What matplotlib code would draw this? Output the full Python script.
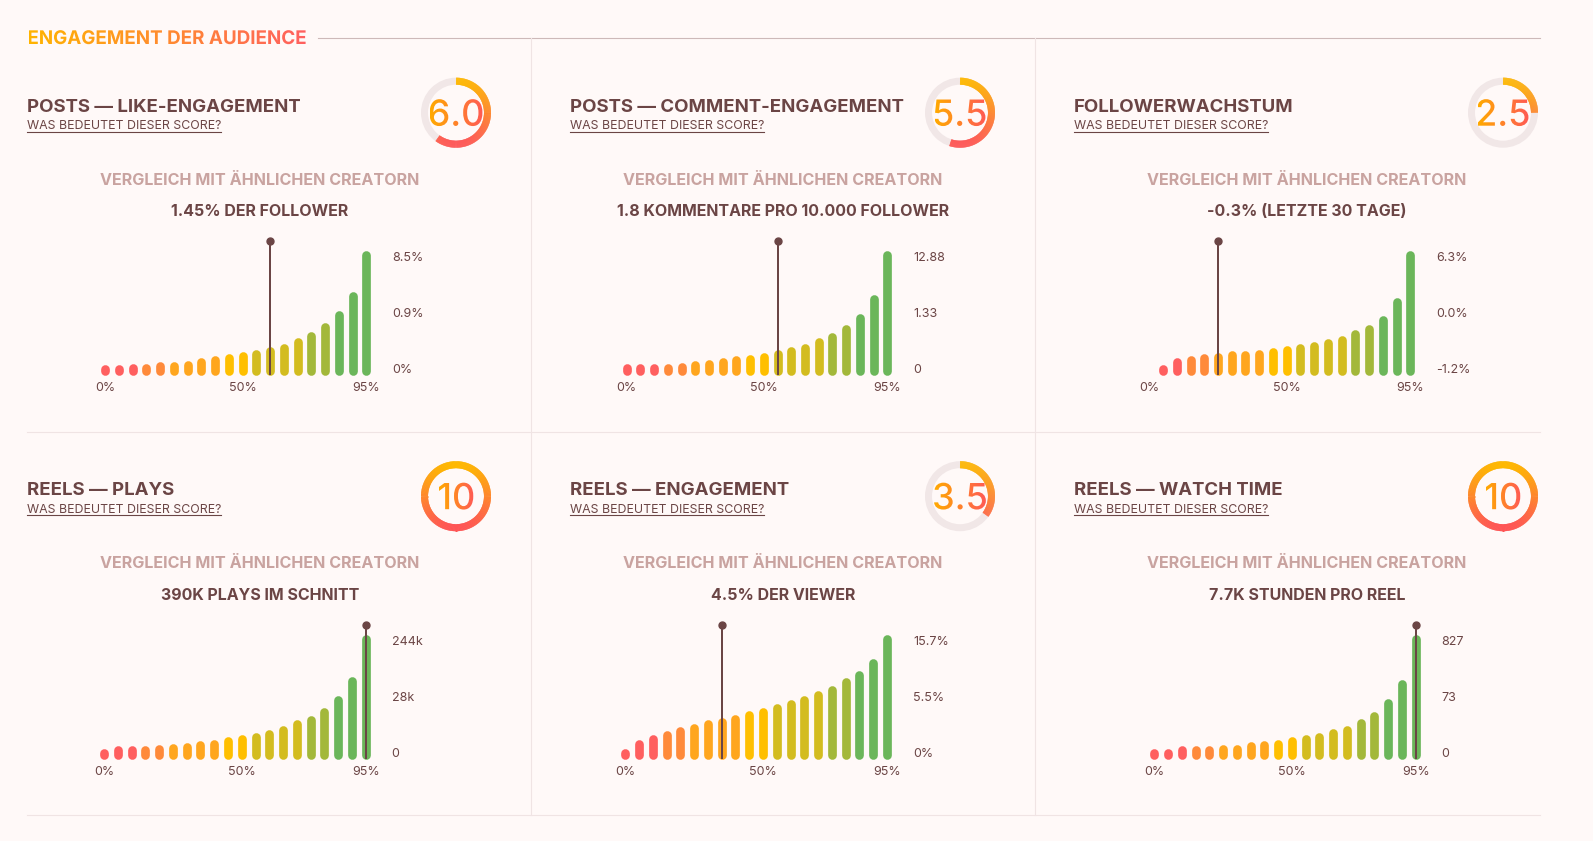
import matplotlib
matplotlib.use('Agg')
import matplotlib.pyplot as plt
import numpy as np
from matplotlib.collections import LineCollection
from matplotlib.textpath import TextPath
from matplotlib.font_manager import FontProperties
from matplotlib.patches import PathPatch, Circle
from matplotlib.transforms import Affine2D
from matplotlib.colors import to_rgb

plt.rcParams['font.family'] = ['Inter', 'DejaVu Sans']

# --- Daten ---
section_title = 'ENGAGEMENT DER AUDIENCE'
titles = ['POSTS — LIKE-ENGAGEMENT', 'POSTS — COMMENT-ENGAGEMENT', 'FOLLOWERWACHSTUM',
          'REELS — PLAYS', 'REELS — ENGAGEMENT', 'REELS — WATCH TIME']
link_text = 'WAS BEDEUTET DIESER SCORE?'
compare_text = 'VERGLEICH MIT ÄHNLICHEN CREATORN'
scores = [6.0, 5.5, 2.5, 10, 3.5, 10]
score_labels = ['6.0', '5.5', '2.5', '10', '3.5', '10']
value_texts = ['1.45% DER FOLLOWER', '1.8 KOMMENTARE PRO 10.000 FOLLOWER',
               '-0.3% (LETZTE 30 TAGE)', '390K PLAYS IM SCHNITT',
               '4.5% DER VIEWER', '7.7K STUNDEN PRO REEL']
y_tick_labels = [['0%', '0.9%', '8.5%'], ['0', '1.33', '12.88'], ['-1.2%', '0.0%', '6.3%'],
                 ['0', '28k', '244k'], ['0%', '5.5%', '15.7%'], ['0', '73', '827']]
percentiles = list(range(0, 100, 5))
x_tick_pct = [0, 50, 95]
marker_pct = [60, 55, 25, 95, 35, 95]

# Balkenhoehen relativ zur Skala
bar_heights = [
    [0.086, 0.086, 0.094, 0.094, 0.105, 0.110, 0.118, 0.137, 0.153, 0.169,
     0.185, 0.206, 0.228, 0.255, 0.303, 0.351, 0.424, 0.515, 0.673, 1.0],
    [0.088, 0.088, 0.094, 0.094, 0.102, 0.113, 0.121, 0.137, 0.153, 0.161,
     0.177, 0.204, 0.225, 0.255, 0.298, 0.343, 0.408, 0.496, 0.649, 1.0],
    [0.046, 0.086, 0.137, 0.158, 0.169, 0.177, 0.198, 0.198, 0.206, 0.220,
     0.233, 0.249, 0.271, 0.290, 0.319, 0.362, 0.408, 0.480, 0.625, 1.0],
    [0.086, 0.104, 0.104, 0.110, 0.118, 0.126, 0.134, 0.150, 0.158, 0.182,
     0.198, 0.214, 0.238, 0.270, 0.313, 0.350, 0.414, 0.511, 0.663, 1.0],
    [0.086, 0.158, 0.198, 0.225, 0.257, 0.281, 0.313, 0.329, 0.353, 0.385,
     0.409, 0.447, 0.473, 0.511, 0.545, 0.591, 0.650, 0.711, 0.810, 1.0],
    [0.086, 0.086, 0.104, 0.104, 0.110, 0.118, 0.118, 0.136, 0.144, 0.152,
     0.176, 0.193, 0.209, 0.241, 0.270, 0.321, 0.382, 0.481, 0.639, 1.0],
]
bar_colors = (['#FF5F5F'] * 3 + ['#FF8A3A'] * 2 + ['#FFA61E'] * 4 + ['#FFBF00'] * 2 +
              ['#D3BC1F'] * 4 + ['#A3B83A'] * 2 + ['#6BB65A'] * 3)

# --- Layout (Pixel) ---
W, H = 1593, 841
BG = '#FFF9F8'
DARK = '#6B4545'
PINK = '#C9A3A0'
col_left = [27.4, 570, 1074]
col_center = [260, 783, 1307]
gauge_x = [456, 960, 1503]
row_dy = 383.5
bar_x = [(105, 366.3), (626.7, 887.3), (1149.3, 1410.3),
         (104, 365.7), (625.3, 887), (1154.3, 1415.7)]
bar_bottom = [375, 759]
full_h = 124.5
bar_px = 8.7

fig = plt.figure(figsize=(W / 100, H / 100), dpi=100, facecolor=BG)
ov = fig.add_axes([0, 0, 1, 1])
ov.set_facecolor(BG)
ov.axis('off')


def grad_colors(t, c0, c1):
    a, b = np.array(to_rgb(c0)), np.array(to_rgb(c1))
    t = np.clip(np.asarray(t), 0, 1)[..., None]
    return (1 - t) * a + t * b


def gradient_text(x, y, s, size_px, c0, c1, weight='bold', ha='left'):
    fp = FontProperties(family='Inter', weight=weight)
    tp = TextPath((0, 0), s, size=size_px, prop=fp)
    ext = tp.get_extents()
    dx = x - (ext.x0 + ext.x1) / 2 if ha == 'center' else x
    tr = Affine2D().scale(1, -1).translate(dx, y) + ov.transData
    patch = PathPatch(tp, transform=tr, facecolor='none', edgecolor='none')
    img = grad_colors(np.linspace(0, 1, 256), c0, c1)[None, :, :]
    im = ov.imshow(img, extent=(dx + ext.x0, dx + ext.x1, y - ext.y0 + 2, y - ext.y1 - 2),
                   aspect='auto', interpolation='bilinear', zorder=3)
    im.set_clip_path(patch)


def gauge(cx, cy, score, label):
    r = 31.5
    lw = 7 * 0.72
    ov.add_patch(Circle((cx, cy), r, fill=False, edgecolor='#F1E7E7', linewidth=lw, zorder=2))
    th = np.radians(np.linspace(90, 90 - 360 * score / 10, 361))
    xs = cx + r * np.cos(th)
    ys = cy - r * np.sin(th)
    pts = np.column_stack([xs, ys])
    # ueberlappende Segmente, damit keine hellen Naehte entstehen
    segs = np.stack([pts[:-2], pts[2:]], axis=1)
    t = ((ys[:-2] + ys[2:]) / 2 - (cy - r)) / (2 * r)
    lc = LineCollection(segs, colors=grad_colors(t, '#FFB800', '#FF5555'),
                        linewidths=lw, capstyle='butt', zorder=3)
    ov.add_collection(lc)
    gradient_text(cx, cy + 13, label, 36, '#FFAA00', '#FF5A55', weight='medium', ha='center')


# Kopfzeile
gradient_text(27.4, 44, section_title, 18.8, '#FFB400', '#FF6060')
ov.plot([318, 1540], [37.5, 37.5], color='#CDB9B9', lw=0.8)

# Trennlinien
for xv in [531, 1035]:
    ov.plot([xv, xv], [38, 815], color='#F0E4E4', lw=0.8)
for yv in [432, 815]:
    ov.plot([27, 1540], [yv, yv], color='#F0E4E4', lw=0.8)

link_fs = 8.9
link_w = TextPath((0, 0), link_text, size=link_fs * 100 / 72,
                  prop=FontProperties(family='Inter')).get_extents().x1

for i in range(6):
    row, col = divmod(i, 3)
    dy = row * row_dy
    ov.text(col_left[col], 111.7 + dy, titles[i], fontsize=13.4, fontweight='bold',
            color=DARK, va='baseline', ha='left')
    ov.text(col_left[col], 129.3 + dy, link_text, fontsize=link_fs, color=DARK,
            va='baseline', ha='left')
    ov.plot([col_left[col], col_left[col] + link_w], [131.8 + dy, 131.8 + dy],
            color=DARK, lw=0.8)
    gauge(gauge_x[col], 112.7 + dy, scores[i], score_labels[i])
    ov.text(col_center[col], 185 + dy, compare_text, fontsize=11.6, fontweight='bold',
            color=PINK, ha='center', va='baseline')
    ov.text(col_center[col], 216 + dy, value_texts[i], fontsize=11.5, fontweight='bold',
            color=DARK, ha='center', va='baseline')

    # Balkendiagramm
    x0, x1 = bar_x[i]
    yb = bar_bottom[row]
    ax = fig.add_axes([x0 / W, (H - yb) / H, (x1 - x0) / W, full_h / H])
    ax.set_xlim(0, 19)
    ax.set_ylim(0, 1)
    ax.patch.set_alpha(0)
    for s in ax.spines.values():
        s.set_visible(False)
    idx = np.array(percentiles) / 5
    h = np.array(bar_heights[i])
    rr = bar_px / 2 / full_h
    lo = np.minimum(rr, h / 2)
    hi = np.maximum(h - rr, h / 2)
    ax.vlines(idx, lo, hi, colors=bar_colors, linewidth=bar_px * 0.72,
              capstyle='round', clip_on=False)
    mi = marker_pct[i] / 5
    ax.vlines(mi, 0, 1.08, colors=DARK, linewidth=2 * 0.72, clip_on=False, zorder=4)
    ax.plot([mi], [1.08], 'o', ms=5, color=DARK, clip_on=False, zorder=5)
    ax.set_xticks([p / 5 for p in x_tick_pct], [f'{p}%' for p in x_tick_pct])
    ax.yaxis.tick_right()
    ax.set_yticks([0.05, 0.5, 0.95], y_tick_labels[i])
    ax.tick_params(axis='x', length=0, pad=5, labelsize=9, labelcolor=DARK)
    ax.tick_params(axis='y', length=0, pad=18.7, labelsize=9, labelcolor=DARK)
    for lab in ax.get_yticklabels():
        lab.set_horizontalalignment('left')

ov.set_xlim(0, W)
ov.set_ylim(H, 0)

fig.savefig('out.png', dpi=100, facecolor=BG)
